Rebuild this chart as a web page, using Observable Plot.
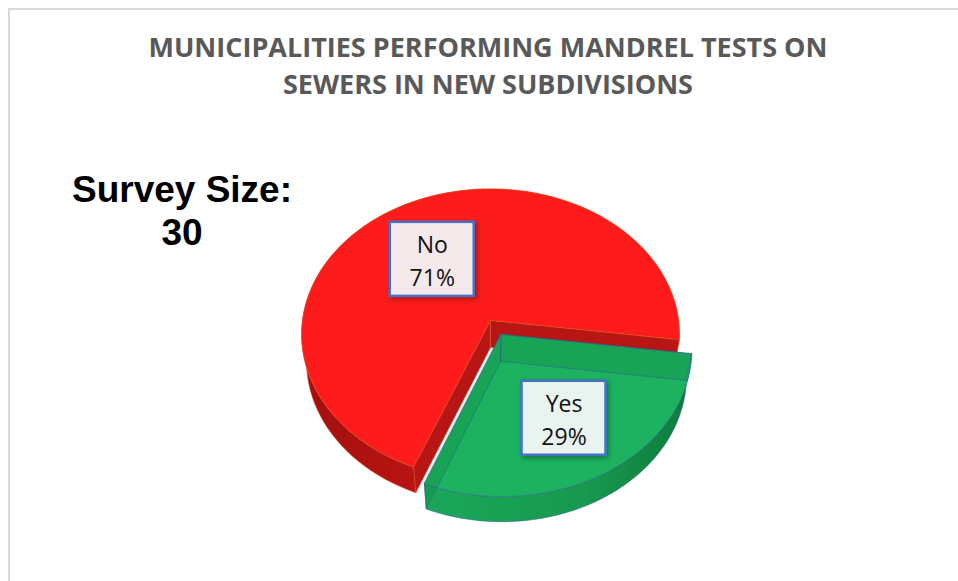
<!DOCTYPE html>
<html><head><meta charset="utf-8">
<script src="https://cdn.jsdelivr.net/npm/d3@7"></script>
<script src="https://cdn.jsdelivr.net/npm/@observablehq/plot@0.6"></script>
<style>
body{margin:0;background:#fff;}
#wrap{position:relative;width:958px;height:581px;overflow:hidden;font-family:"Open Sans",sans-serif;}
#frame{position:absolute;left:8px;top:8px;width:970px;height:600px;border-top:2px solid #d9d9d9;border-left:2px solid #d9d9d9;}
#title{position:absolute;left:0;top:28px;width:976px;text-align:center;font-weight:700;font-size:27px;line-height:37px;color:#595959;}
#survey{position:absolute;left:62px;top:168px;width:240px;text-align:center;font-family:"Liberation Sans",Arial,sans-serif;font-weight:700;font-size:37px;line-height:43px;color:#000;}
#chart{position:absolute;left:0;top:0;}
</style></head>
<body>
<div id="wrap">
  <div id="frame"></div>
  <div id="chart"></div>
  <div id="title">MUNICIPALITIES PERFORMING MANDREL TESTS ON<br>SEWERS IN NEW SUBDIVISIONS</div>
  <div id="survey">Survey Size:<br>30</div>
</div>
<script>
// ---- data ----
const categories = ["Yes", "No"];
const values = [29, 71];
const exploded = ["Yes"];

// ---- styles / view ----
const W = 958, H = 581;
const firstSliceAngle = 97.5;           // degrees clockwise from back
const view = {cx: 490, cy: 320, f: 1273, dist: 6.77, tilt: 50, thick: 0.23, explode: 0.11, labelR: 0.6};
const styles = {
  Yes: {top: "#1cb260", wall: "url(#gWall)", cut: "#0d6f38", edge: "#2d6690", box: "#e9f3f0", ldx: 2, ldy: 4},
  No:  {top: "#fe1b1b", wall: "url(#rWall)", cut: "#b81515", edge: "#d9501e", box: "#f6e9ec", ldx: -4, ldy: 10}
};

const sa = Math.sin(view.tilt * Math.PI / 180), ca = Math.cos(view.tilt * Math.PI / 180);
function proj(u, v, w) {
  const depth = view.dist + v * ca - w * sa;
  return {x: view.cx + view.f * u / depth, y: view.cy - view.f * (v * sa + w * ca) / depth};
}
const rad = d => d * Math.PI / 180;

const total = d3.sum(values);
let acc = firstSliceAngle;
const slices = categories.map((c, i) => {
  const a0 = acc, a1 = acc + values[i] / total * 360;
  acc = a1;
  const mid = (a0 + a1) / 2;
  const e = exploded.includes(c) ? view.explode : 0;
  return {cat: c, value: values[i], a0, a1, mid, ou: e * Math.sin(rad(mid)), ov: e * Math.cos(rad(mid))};
});
// far slices first
slices.sort((a, b) => Math.cos(rad(b.mid)) - Math.cos(rad(a.mid)));

const polys = [];
let pid = 0;
function addPoly(pts, fill, stroke, op) {
  const id = pid++;
  pts.forEach(p => polys.push({id, x: p.x, y: p.y, fill, stroke, op}));
}
for (const s of slices) {
  const st = styles[s.cat];
  const rim = (a, w) => proj(s.ou + Math.sin(rad(a)), s.ov + Math.cos(rad(a)), w);
  const apex = w => proj(s.ou, s.ov, w);
  const arc = (from, to, w) => d3.range(0, 101).map(k => rim(from + (to - from) * k / 100, w));
  const cut = a => [apex(0), rim(a, 0), rim(a, -view.thick), apex(-view.thick)];
  const frontA0 = Math.sin(rad(s.a0)) < 0, frontA1 = -Math.sin(rad(s.a1)) < 0;
  addPoly(arc(s.a0, s.a1, 0).concat(arc(s.a1, s.a0, -view.thick)), st.wall, st.edge, 1);
  if (frontA0) addPoly(cut(s.a0), st.cut, st.edge, 1);
  if (frontA1) addPoly(cut(s.a1), st.cut, st.edge, 1);
  addPoly([apex(0)].concat(arc(s.a0, s.a1, 0)), st.top, st.edge, 1);
  // hidden back faces seen faintly through the top
  if (!frontA0) addPoly(cut(s.a0), st.cut, st.edge, 0.22);
  if (!frontA1) addPoly(cut(s.a1), st.cut, st.edge, 0.22);
}

const labels = slices.map(s => {
  const st = styles[s.cat];
  const p = proj(s.ou + view.labelR * Math.sin(rad(s.mid)), s.ov + view.labelR * Math.cos(rad(s.mid)), 0);
  return {cat: s.cat, x: p.x + st.ldx, y: p.y + st.ldy, text: `${s.cat}\n${Math.round(s.value / total * 100)}%`, box: st.box};
});

const defs = () => {
  const ns = "http://www.w3.org/2000/svg";
  const g = document.createElementNS(ns, "defs");
  g.innerHTML = `
    <linearGradient id="rWall" x1="0" x2="1" y1="0" y2="0">
      <stop offset="0" stop-color="#a30f0f"/><stop offset="0.5" stop-color="#c81616"/><stop offset="1" stop-color="#d81a1a"/>
    </linearGradient>
    <linearGradient id="gWall" x1="0" x2="1" y1="0" y2="0">
      <stop offset="0" stop-color="#1aa85a"/><stop offset="0.6" stop-color="#17994f"/><stop offset="1" stop-color="#0e7a3c"/>
    </linearGradient>
    <filter id="shadow" x="-20%" y="-20%" width="140%" height="140%">
      <feDropShadow dx="2" dy="2" stdDeviation="2.5" flood-color="#000" flood-opacity="0.35"/>
    </filter>`;
  return g;
};

const chart = Plot.plot({
  width: W, height: H, margin: 0,
  x: {domain: [0, W], axis: null},
  y: {domain: [0, H], range: [0, H], axis: null},
  color: {type: "identity"},
  opacity: {type: "identity"},
  style: {background: "transparent"},
  marks: [
    defs,
    Plot.line(polys, {x: "x", y: "y", z: "id", fill: "fill", stroke: "stroke", fillOpacity: "op", strokeWidth: 0.7, strokeOpacity: 0.8, curve: "linear-closed"}),
    Plot.rect(labels, {x1: d => d.x - 42, x2: d => d.x + 42, y1: d => d.y - 37, y2: d => d.y + 37, fill: "box", stroke: "#4472c4", strokeWidth: 2.5}),
    Plot.text(labels, {x: "x", y: "y", text: "text", fontSize: 23, lineHeight: 1.43, fill: "#111", fontFamily: "Open Sans"})
  ]
});
chart.querySelectorAll("rect").forEach(r => { if (r.getAttribute("stroke") || r.parentNode.getAttribute("stroke")) r.setAttribute("filter", "url(#shadow)"); });
document.getElementById("chart").appendChild(chart);
</script>
</body></html>
